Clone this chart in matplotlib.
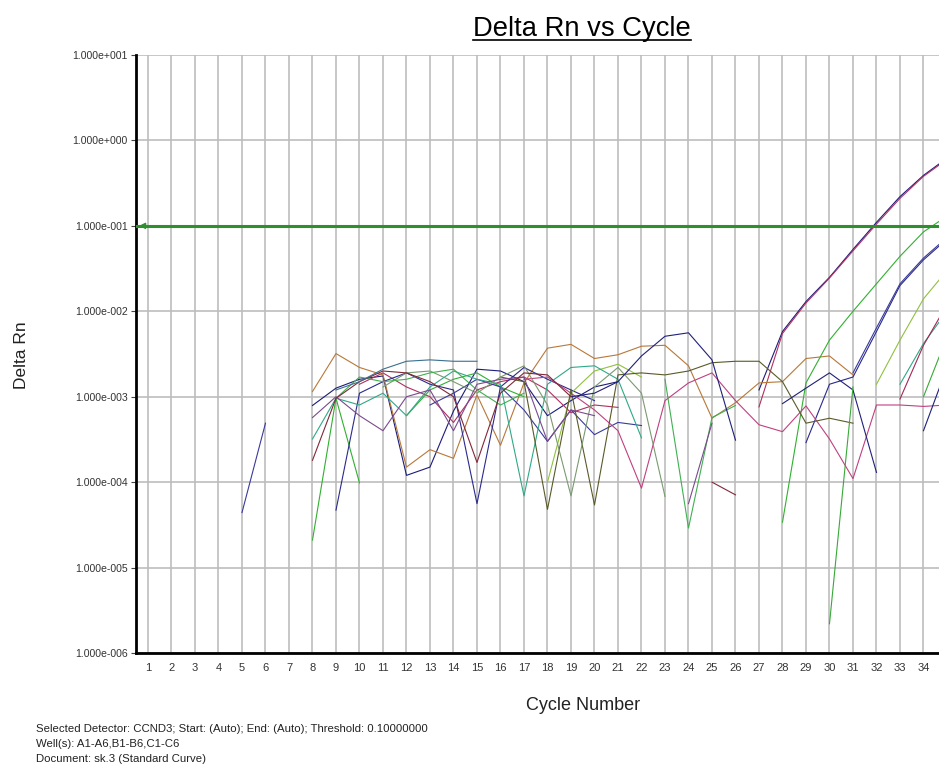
import matplotlib
matplotlib.use('Agg')
import matplotlib.pyplot as plt
import numpy as np
from matplotlib.lines import Line2D
from matplotlib.ticker import FixedLocator, FuncFormatter, NullLocator

nan = np.nan

# サイクル番号 (1〜35)
cycles = np.arange(1, 36)
threshold = 0.1

# 各ウェルの Delta Rn (負の値は nan)
well_a1 = [nan] * 7 + [7.9e-4, 1.26e-3, 1.6e-3, 1.75e-3, 1.2e-4, 1.5e-4, 6.8e-4, 2.1e-3, 2.0e-3, 1.5e-3, 6e-4, 9e-4, 1.3e-3, 1.5e-3] \
    + [nan] * 5 + [1.2e-3, 5.8e-3, 1.3e-2, 2.5e-2, 5.3e-2, 0.11, 0.22, 0.39, 0.62]
well_a2 = [nan] * 9 + [1.4e-3, 1.9e-3, 1.3e-3, 1.0e-3, 5e-4, 1.2e-3, 1.5e-3, 1.7e-3, 1.2e-3, 6.5e-4, 8e-4, 7.5e-4] \
    + [nan] * 5 + [7.6e-4, 5.5e-3, 1.25e-2, 2.45e-2, 5.1e-2, 0.105, 0.21, 0.38, 0.6]
well_a3 = [nan] * 7 + [1.15e-3, 3.2e-3, 2.2e-3, 1.8e-3, 1.5e-4, 2.4e-4, 1.9e-4, 1.05e-3, 2.7e-4, 1.45e-3, 3.7e-3, 4.1e-3,
                       2.8e-3, 3.1e-3, 3.9e-3, 4.0e-3, 2.3e-3, 5.6e-4, 8.5e-4, 1.45e-3, 1.5e-3, 2.8e-3, 3.0e-3, 1.8e-3] + [nan] * 4
well_a4 = [nan] * 7 + [2.1e-5, 9.6e-4, 9.8e-5] + [nan] + [6e-4, 1.2e-3, 1.6e-3, 1.9e-3, 1.3e-3, 1.0e-3] \
    + [nan] * 10 + [3.4e-5, 1.45e-3, 4.6e-3, 1.0e-2, 2.1e-2, 4.4e-2, 8.5e-2, 0.13]
well_a5 = [nan] * 8 + [4.7e-5, 1.1e-3, 1.5e-3, 1.9e-3, 1.4e-3, 1.2e-3, 5.6e-5, 1.3e-3, 2.2e-3, 1.6e-3, 1.2e-3, 9e-4] \
    + [nan] * 8 + [2.9e-4, 1.4e-3, 1.7e-3, 5.8e-3, 2.0e-2, 4.0e-2, 7.0e-2]
well_a6 = [nan] * 4 + [4.4e-5, 4.9e-4] + [nan] * 6 + [8e-4, 1.1e-3, 1.6e-3, 1.3e-3, 7e-4, 3e-4, 7e-4, 3.6e-4, 5e-4, 4.6e-4] \
    + [nan] * 8 + [1.9e-3, 6.4e-3, 2.1e-2, 4.2e-2, 7.3e-2]
well_b1 = [nan] * 17 + [1e-4, 1.1e-3, 2.0e-3, 2.4e-3, 1.7e-3] + [nan] * 9 + [1.4e-3, 4.6e-3, 1.4e-2, 3.0e-2]
well_b2 = [nan] * 7 + [3.2e-4, 9.6e-4, 8e-4, 1.1e-3, 6e-4, 1.3e-3, 2.0e-3, 1.6e-3, 1.4e-3, 6.9e-5, 1.4e-3, 2.2e-3, 2.3e-3, 1.6e-3, 3.3e-4] \
    + [nan] * 10 + [1.4e-3, 4.2e-3, 1.0e-2]
well_b3 = [nan] * 16 + [1.6e-3, 1.7e-3, 1.1e-3, 7e-4, 4e-4, 8.5e-5, 9e-4, 1.45e-3, 1.9e-3, 9e-4, 4.7e-4, 3.9e-4,
                        7.8e-4, 3.2e-4, 1.1e-4, 8e-4, 8e-4, 7.7e-4, 8e-4]
well_b4 = [nan] * 32 + [9.4e-4, 4.0e-3, 1.2e-2]
well_b5 = [nan] * 15 + [1.7e-3, 1.5e-3, 4.8e-5, 1.2e-3, 5.4e-5, 1.8e-3, 1.9e-3, 1.8e-3, 2.0e-3, 2.5e-3, 2.6e-3, 2.6e-3,
                        1.5e-3, 4.9e-4, 5.6e-4, 4.9e-4] + [nan] * 4
well_b6 = [nan] * 10 + [1.3e-3, 1.9e-3, 2.0e-3, 1.5e-3, 1.1e-3, 1.7e-3, 2.3e-3, 8e-4, 6.9e-5, 1.3e-3, 2.2e-3, 1.1e-3, 6.8e-5] + [nan] * 12
well_c1 = [nan] * 8 + [9.6e-4, 1.7e-3, 1.5e-3, 1.6e-3, 1.9e-3, 2.1e-3, 1.2e-3, 8e-4, 1.1e-3] + [nan] * 5 \
    + [1.6e-3, 2.9e-5, 5.7e-4, 7.9e-4] + [nan] * 9
well_c2 = [nan] * 7 + [5.7e-4, 1.0e-3, 6e-4, 4e-4, 1.0e-3, 1.2e-3, 4e-4, 1.4e-3, 1.6e-3, 1.7e-3, 3e-4, 7e-4, 6e-4] \
    + [nan] * 3 + [5.6e-5, 4.9e-4] + [nan] * 10
well_c3 = [nan] * 18 + [1.0e-3, 1.1e-3, 1.5e-3, 3.0e-3, 5.1e-3, 5.6e-3, 2.7e-3, 3.1e-4] + [nan] \
    + [8.3e-4, 1.26e-3, 1.9e-3, 1.2e-3, 1.3e-4] + [nan] + [4e-4, 2.2e-3]
well_c4 = [nan] * 7 + [1.8e-4, 9.6e-4, 1.5e-3, 2.0e-3, 1.9e-3, 1.5e-3, 1.0e-3, 1.7e-4, 1.1e-3, 1.9e-3, 1.8e-3, 1.0e-3] \
    + [nan] * 5 + [1.0e-4, 7.1e-5] + [nan] * 9
well_c5 = [nan] * 8 + [1.2e-3, 1.5e-3, 2.1e-3, 2.6e-3, 2.7e-3, 2.6e-3, 2.6e-3] + [nan] * 20
well_c6 = [nan] * 29 + [2.2e-6, 1.3e-3] + [nan] * 2 + [1.0e-3, 5.0e-3]

wells = [well_a1, well_a2, well_a3, well_a4, well_a5, well_a6,
         well_b1, well_b2, well_b3, well_b4, well_b5, well_b6,
         well_c1, well_c2, well_c3, well_c4, well_c5, well_c6]
colors = ['#1c1c7a', '#b03060', '#b87838', '#30b030', '#2a2a8c', '#3a3a9a',
          '#90c040', '#30a888', '#c04080', '#a02858', '#5a5a28', '#7a9a70',
          '#40b050', '#7a4a90', '#20207a', '#802838', '#3a7090', '#38a838']

plt.rcParams['font.family'] = ['Liberation Sans', 'DejaVu Sans']

fig = plt.figure(figsize=(9.39, 7.67), dpi=100)
ax = fig.add_axes([136 / 939, 114 / 767, 803 / 939, 598 / 767])

for w, c in zip(wells, colors):
    ax.plot(cycles, w, color=c, lw=0.8, zorder=2)

# しきい値ライン
ax.axhline(threshold, color='#2f8f2f', lw=2.2, zorder=3)
ax.annotate('', xy=(0.5, threshold), xytext=(1.0, threshold),
            arrowprops=dict(arrowstyle='-|>', color='#2f8f2f', lw=1, mutation_scale=9), zorder=4)

ax.set_yscale('log')
ax.set_ylim(1e-6, 1e1)
ax.set_xlim(0.49, 34.66)

ax.xaxis.set_major_locator(FixedLocator(range(1, 41)))
ax.yaxis.set_major_locator(FixedLocator([10.0 ** e for e in range(-6, 2)]))
ax.yaxis.set_minor_locator(NullLocator())


def fmt_exp(v, pos):
    e = int(round(np.log10(v)))
    sign = '+' if e >= 0 else '-'
    return f"1.000e{sign}{abs(e):03d}"


ax.yaxis.set_major_formatter(FuncFormatter(fmt_exp))
ax.grid(True, color='#bdbdbd', lw=1.2, zorder=0)
ax.set_axisbelow(True)

for s in ['top', 'right']:
    ax.spines[s].set_visible(False)
for s in ['left', 'bottom']:
    ax.spines[s].set_linewidth(2)
    ax.spines[s].set_color('black')

ax.tick_params(axis='y', length=3.5, width=0.8, pad=2.5, labelsize=7.6, color='#444444', labelcolor='#333333')
ax.tick_params(axis='x', length=0, pad=7, labelsize=8, labelcolor='#333333')

# ラベル
fig.text(583 / 939, 1 - 706 / 767, 'Cycle Number', ha='center', va='center', fontsize=13, color='#222222')
fig.text(21 / 939, 1 - 355 / 767, 'Delta Rn', ha='center', va='center', rotation=90, fontsize=12.5, color='#222222')

# タイトル (下線付き)
title = fig.text(582 / 939, 1 - 35.7 / 767, 'Delta Rn vs Cycle', ha='center', va='baseline', fontsize=19.7, color='black')
fig.canvas.draw()
bb = title.get_window_extent()
uy = 1 - 39.5 / 767
fig.add_artist(Line2D([bb.x0 / fig.bbox.width, bb.x1 / fig.bbox.width], [uy, uy],
                      transform=fig.transFigure, color='black', lw=1.2))

info = ['Selected Detector: CCND3; Start: (Auto); End: (Auto); Threshold: 0.10000000',
        'Well(s): A1-A6,B1-B6,C1-C6',
        'Document: sk.3 (Standard Curve)']
for i, line in enumerate(info):
    fig.text(36 / 939, 1 - (729 + 15 * i) / 767, line, ha='left', va='center', fontsize=8.2, color='#222222')

fig.savefig('out.png', dpi=100)
